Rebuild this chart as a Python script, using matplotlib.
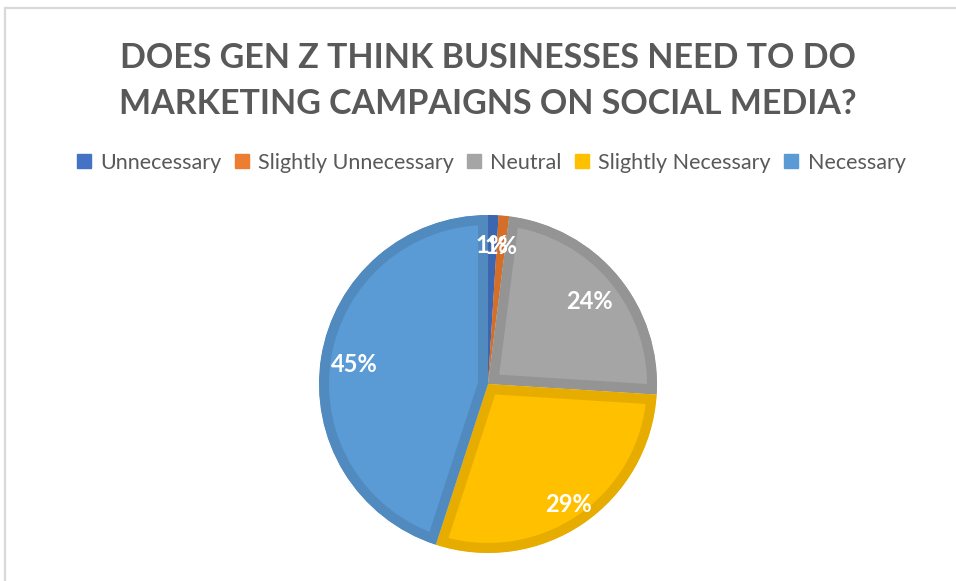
import numpy as np
import matplotlib
matplotlib.use("Agg")
import matplotlib.pyplot as plt
from matplotlib.patches import Rectangle
from matplotlib.lines import Line2D

# Survey responses (percent of respondents)
categories = ["Unnecessary", "Slightly Unnecessary", "Neutral",
              "Slightly Necessary", "Necessary"]
shares = [1, 1, 24, 29, 45]
title_lines = ["DOES GEN Z THINK BUSINESSES NEED TO DO",
               "MARKETING CAMPAIGNS ON SOCIAL MEDIA?"]

fill_colors = ["#4472C4", "#ED7D31", "#A5A5A5", "#FFC000", "#5B9BD5"]
edge_colors = ["#3C66B0", "#D46F2A", "#949494", "#E6AD00", "#518ABF"]
label_dist = [0.83, 0.83, 0.78, 0.85, 0.80]

W, H = 956, 581
fig = plt.figure(figsize=(W / 100, H / 100), dpi=100)
fig.patch.set_facecolor("white")

# chart-area frame
fig.patches.append(Rectangle((5 / W, -0.1), 1.2, (H - 8) / H + 0.1,
                             transform=fig.transFigure, fill=False,
                             edgecolor="#D9D9D9", linewidth=1.6))

title_font = dict(family=["Lato", "DejaVu Sans"], fontweight="bold",
                  color="#595959", fontsize=24.5, ha="center", va="center")
fig.text(488 / W, 1 - 58 / H, title_lines[0], **title_font)
fig.text(488 / W, 1 - 104 / H, title_lines[1], **title_font)

# pie axes: centre (488, 384) px, radius 169 px
cx, cy, r = 488, 384, 169
ax = fig.add_axes([(cx - r) / W, (H - cy - r) / H, 2 * r / W, 2 * r / H])
wedges, _ = ax.pie(shares, colors=fill_colors, startangle=90,
                   counterclock=False, radius=1.0)
ax.set_xlim(-1, 1)
ax.set_ylim(-1, 1)
ax.set_axis_off()

# inner borders: double-width stroke clipped to each wedge's own outline
border_px = 10
for w, ec in zip(wedges, edge_colors):
    w.set_edgecolor(ec)
    w.set_linewidth(2 * border_px * 72 / 100)
    w.set_joinstyle("miter")
    w.set_clip_path(w)
    w.set_clip_on(True)

for w, v, d in zip(wedges, shares, label_dist):
    mid = np.deg2rad((w.theta1 + w.theta2) / 2)
    ax.text(d * np.cos(mid), d * np.sin(mid), f"{v}%", ha="center",
            va="center_baseline", color="white", fontweight="bold", fontsize=17,
            family=["Lato", "DejaVu Sans"], clip_on=False)

handles = [Line2D([], [], marker="s", linestyle="none", markersize=10,
                  markerfacecolor=c, markeredgecolor=c) for c in fill_colors]
fig.legend(handles, categories, loc="center", bbox_to_anchor=(491 / W, 1 - 163 / H),
           ncol=5, frameon=False, handlelength=0.7,
           handletextpad=0.4, columnspacing=0.6, labelcolor="#595959",
           prop=dict(family=["Lato", "DejaVu Sans"], size=15.5))

fig.savefig("out.png", dpi=100, facecolor="white")
